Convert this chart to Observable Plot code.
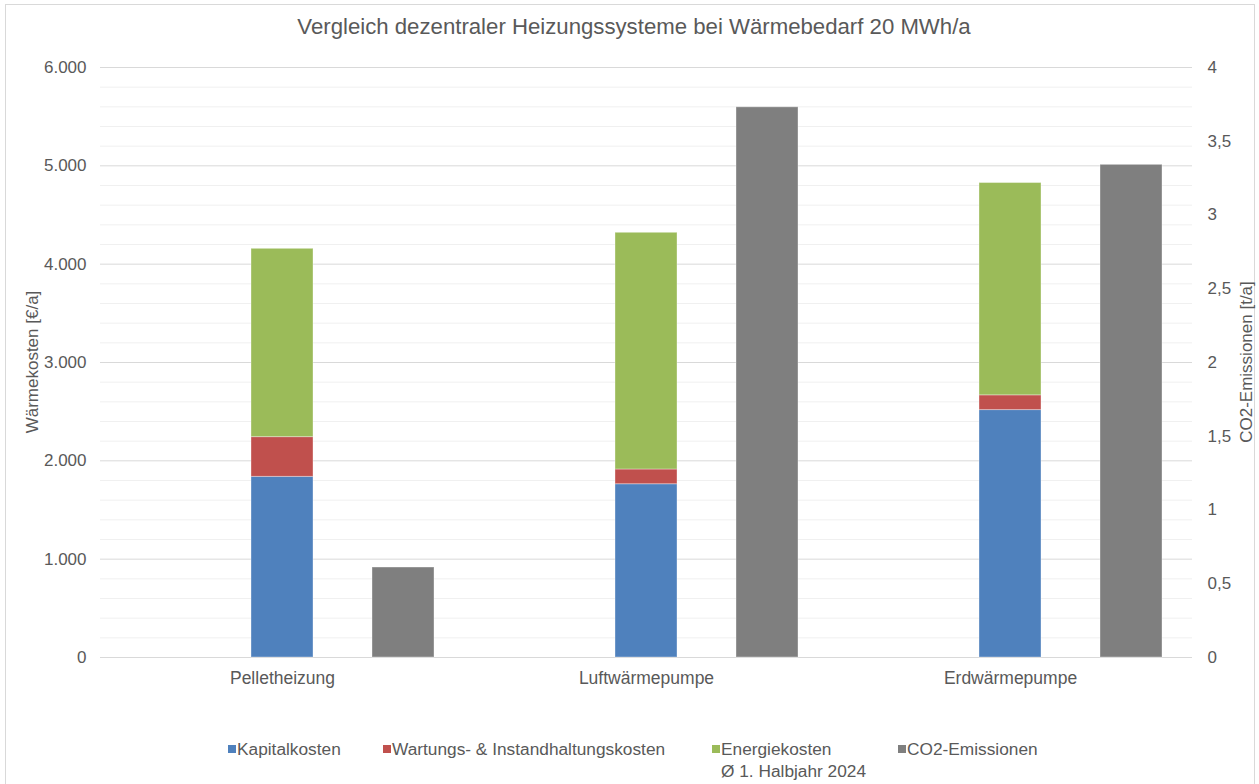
<!DOCTYPE html>
<html>
<head>
<meta charset="utf-8">
<script src="https://cdn.jsdelivr.net/npm/d3@7"></script>
<script src="https://cdn.jsdelivr.net/npm/@observablehq/plot@0.6"></script>
<style>
  html, body { margin: 0; padding: 0; background: #fff; overflow: hidden; }
  #wrap { position: relative; width: 1259px; height: 784px; font-family: "Liberation Sans", Arial, sans-serif; color: #595959; }
  #frame { position: absolute; left: 5px; top: 4px; width: 1250px; height: 820px; border: 1px solid #d9d9d9; box-sizing: border-box; }
  #title { position: absolute; left: 0; width: 1268px; top: 14px; text-align: center; font-size: 22.2px; }
  #chart { position: absolute; left: 0; top: 0; }
  .ytitle { position: absolute; font-size: 17px; white-space: nowrap; transform: translate(-50%, -50%) rotate(-90deg); }
  .leg { position: absolute; font-size: 17.3px; white-space: nowrap; line-height: 22px; }
  .sw { position: absolute; width: 8px; height: 8px; }
</style>
</head>
<body>
<div id="wrap">
  <div id="frame"></div>
  <div id="title">Vergleich dezentraler Heizungssysteme bei Wärmebedarf 20 MWh/a</div>
  <div id="chart"></div>
  <div class="ytitle" style="left:33px; top:362px;">Wärmekosten [€/a]</div>
  <div class="ytitle" style="left:1247px; top:362px;">CO2-Emissionen [t/a]</div>
  <div id="legend"></div>
</div>
<script>
// ---- data ----
const categories = ["Pelletheizung", "Luftwärmepumpe", "Erdwärmepumpe"];
const kapitalkosten = [1837, 1762, 2516];
const wartungskosten = [404, 150, 150];
const energiekosten = [1915, 2407, 2159];
const co2Emissionen = [0.61, 3.73, 3.34];
const seriesNames = ["Kapitalkosten", "Wartungs- & Instandhaltungskosten", "Energiekosten", "CO2-Emissionen"];
const seriesColors = ["#4f81bd", "#c0504d", "#9bbb59", "#7f7f7f"];
const leftTicks = [0, 1000, 2000, 3000, 4000, 5000, 6000];
const rightTicks = [0, 0.5, 1, 1.5, 2, 2.5, 3, 3.5, 4];

// secondary axis: 0..4 t/a mapped onto 0..6000 €/a
const ratio = 6000 / 4;

const costRows = [];
[kapitalkosten, wartungskosten, energiekosten].forEach((arr, s) => {
  categories.forEach((c, i) => costRows.push({cat: c, slot: "cost", series: seriesNames[s], value: arr[i]}));
});
const co2Rows = categories.map((c, i) => ({cat: c, slot: "co2", series: seriesNames[3], value: co2Emissionen[i] * ratio}));

const minor = d3.range(0, 6001, 200).filter(d => d % 1000 !== 0);

const chart = Plot.plot({
  width: 1259,
  height: 700,
  marginTop: 67,
  marginBottom: 43,
  marginLeft: 100,
  marginRight: 67,
  style: {fontFamily: "Liberation Sans, Arial, sans-serif", fontSize: "17px", color: "#595959", background: "transparent"},
  fx: {domain: categories, padding: 0, label: null},
  x: {domain: ["leer", "cost", "co2"], paddingInner: 0.49, paddingOuter: 0.24, axis: null},
  y: {domain: [0, 6000]},
  color: {domain: seriesNames, range: seriesColors},
  marks: [
    Plot.gridY(minor, {stroke: "#f0f0f0", strokeOpacity: 1}),
    Plot.gridY(leftTicks, {stroke: "#d9d9d9", strokeOpacity: 1}),
    Plot.barY(costRows, {fx: "cat", x: "slot", y: "value", fill: "series", stroke: "#ffffff", strokeOpacity: 0.35, strokeWidth: 1}),
    Plot.barY(co2Rows, {fx: "cat", x: "slot", y: "value", fill: "series", stroke: "#ffffff", strokeOpacity: 0.35, strokeWidth: 1}),
    Plot.axisY(leftTicks, {anchor: "left", tickSize: 0, tickPadding: 14, label: null, tickFormat: d => d.toLocaleString("de-DE"), fill: "#595959"}),
    Plot.axisY(rightTicks.map(v => v * ratio), {anchor: "right", tickSize: 0, tickPadding: 15, label: null, tickFormat: d => (d / ratio).toLocaleString("de-DE"), fill: "#595959", textAnchor: "start"}),
    Plot.axisFx({anchor: "bottom", tickSize: 0, tickPadding: 14, label: null, fill: "#595959", fontSize: "17.5px"})
  ]
});
document.getElementById("chart").appendChild(chart);

// ---- legend ----
const legendItems = [
  {name: seriesNames[0], color: seriesColors[0], x: 228},
  {name: seriesNames[1], color: seriesColors[1], x: 383},
  {name: seriesNames[2] + "<br>Ø 1. Halbjahr 2024", color: seriesColors[2], x: 712},
  {name: seriesNames[3], color: seriesColors[3], x: 898}
];
const leg = document.getElementById("legend");
legendItems.forEach(it => {
  const sw = document.createElement("div");
  sw.className = "sw";
  sw.style.left = it.x + "px";
  sw.style.top = "745px";
  sw.style.background = it.color;
  leg.appendChild(sw);
  const t = document.createElement("div");
  t.className = "leg";
  t.style.left = (it.x + 9) + "px";
  t.style.top = "738px";
  t.innerHTML = it.name;
  leg.appendChild(t);
});
</script>
</body>
</html>
